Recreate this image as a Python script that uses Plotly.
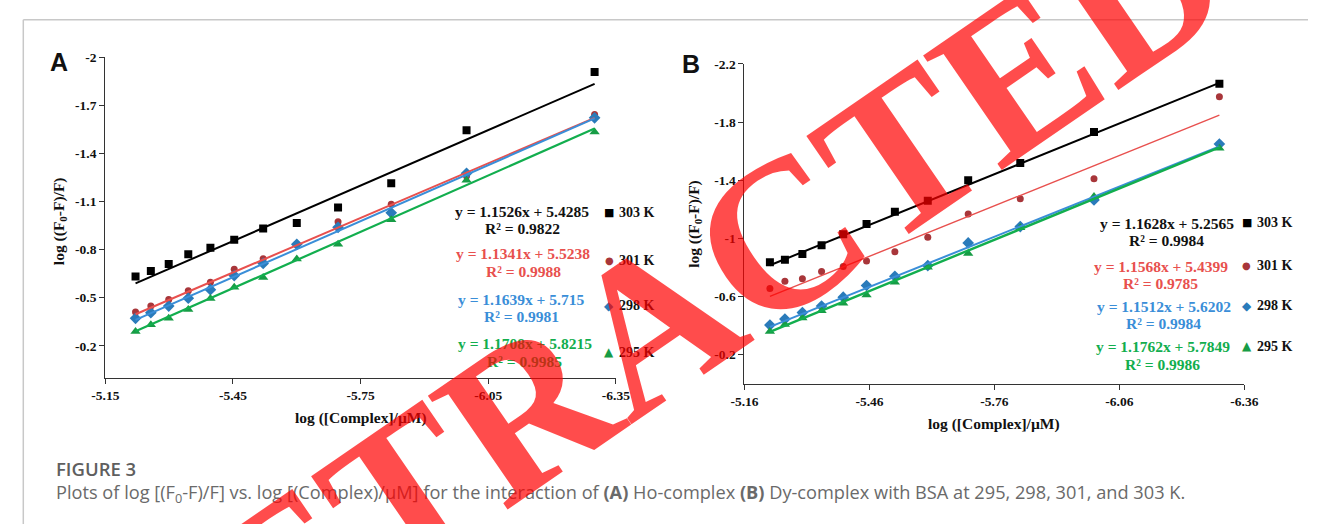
import plotly.graph_objects as go

# ---------------- data ----------------
log_conc = [-5.221, -5.257, -5.299, -5.345, -5.397, -5.453, -5.521, -5.600, -5.697, -5.822, -5.999, -6.300]
temps = ["303 K", "301 K", "298 K", "295 K"]

A_303 = [-0.632, -0.667, -0.710, -0.771, -0.812, -0.861, -0.931, -0.966, -1.062, -1.214, -1.543, -1.906]
A_301 = [-0.411, -0.448, -0.489, -0.544, -0.597, -0.677, -0.743, -0.833, -0.974, -1.083, -1.259, -1.642]
A_298 = [-0.372, -0.407, -0.448, -0.497, -0.550, -0.638, -0.714, -0.833, -0.939, -1.029, -1.275, -1.621]
A_295 = [-0.290, -0.331, -0.372, -0.427, -0.495, -0.566, -0.626, -0.741, -0.833, -0.986, -1.232, -1.533]
A_slopes = [1.1526, 1.1341, 1.1639, 1.1708]
A_intercepts = [5.4285, 5.5238, 5.715, 5.8215]
A_r2 = [0.9822, 0.9988, 0.9981, 0.9985]

B_303 = [-0.835, -0.853, -0.892, -0.953, -1.027, -1.099, -1.183, -1.258, -1.400, -1.518, -1.732, -2.064]
B_301 = [-0.654, -0.704, -0.722, -0.772, -0.806, -0.844, -0.907, -1.007, -1.167, -1.273, -1.409, -1.974]
B_298 = [-0.403, -0.444, -0.489, -0.534, -0.595, -0.675, -0.738, -0.812, -0.968, -1.081, -1.264, -1.649]
B_295 = [-0.358, -0.406, -0.451, -0.501, -0.553, -0.609, -0.697, -0.801, -0.896, -1.072, -1.287, -1.619]
B_slopes = [1.1628, 1.1568, 1.1512, 1.1762]
B_intercepts = [5.2565, 5.4399, 5.6202, 5.7849]
B_r2 = [0.9984, 0.9785, 0.9984, 0.9986]

A_xticks = [-5.15, -5.45, -5.75, -6.05, -6.35]
A_yticks = [-2, -1.7, -1.4, -1.1, -0.8, -0.5, -0.2]
B_xticks = [-5.16, -5.46, -5.76, -6.06, -6.36]
B_yticks = [-2.2, -1.8, -1.4, -1, -0.6, -0.2]

x_title = "log ([Complex]/µM)"
y_title = "log ((F<sub>0</sub>-F)/F)"
caption_head = "FIGURE 3"
caption_text = ("Plots of log [(F<sub>0</sub>-F)/F] vs. log [(Complex)/µM] for the interaction of "
                "<b>(A)</b> Ho-complex <b>(B)</b> Dy-complex with BSA at 295, 298, 301, and 303 K.")
stamp_text = "RETRACTED"

# ---------------- styles ----------------
W, H = 1322, 524
def px(x): return x / W
def py(y): return 1 - y / H

SERIF = "Liberation Serif, Times New Roman, serif"
line_colors = ["#000000", "#E8504E", "#3A8ED8", "#12AE4E"]
text_colors = ["#111111", "#E8504E", "#3A8ED8", "#12AE4E"]
marker_colors = ["#000000", "#A8363A", "#2A7BBA", "#179C45"]
symbols = ["square", "circle", "diamond", "triangle-up"]
msizes = [8, 7, 9, 9]
glyphs = ["■", "●", "◆", "▲"]
glyph_sizes = [11, 10, 12, 12]

fig = go.Figure()

panels = [
    dict(xa="x", ya="y", series=[A_303, A_301, A_298, A_295], slopes=A_slopes, icpts=A_intercepts,
         lw=[2, 2, 2, 2.2]),
    dict(xa="x2", ya="y2", series=[B_303, B_301, B_298, B_295], slopes=B_slopes, icpts=B_intercepts,
         lw=[2, 1.4, 2, 2.4]),
]

for p in panels:
    for i, ys in enumerate(p["series"]):
        fig.add_trace(go.Scatter(x=log_conc, y=ys, mode="markers", xaxis=p["xa"], yaxis=p["ya"],
                                 marker=dict(symbol=symbols[i], size=msizes[i], color=marker_colors[i],
                                             line=dict(width=0)),
                                 showlegend=False, name=temps[i]))
    for i in range(4):
        xs = [log_conc[0], log_conc[-1]]
        yl = [p["slopes"][i] * v + p["icpts"][i] for v in xs]
        fig.add_trace(go.Scatter(x=xs, y=yl, mode="lines", xaxis=p["xa"], yaxis=p["ya"],
                                 line=dict(color=line_colors[i], width=p["lw"][i]), showlegend=False))

axis_common = dict(showgrid=False, zeroline=False, showline=True, linecolor="#333333", linewidth=1.3,
                   ticks="outside", ticklen=5, tickwidth=1.2, tickcolor="#333333",
                   tickfont=dict(family=SERIF, size=13.5, color="#111111", weight="bold"))

def fmt(v):
    return "%g" % v

fig.update_layout(
    width=W, height=H, margin=dict(l=0, r=0, t=0, b=0),
    paper_bgcolor="white", plot_bgcolor="white", showlegend=False,
    xaxis=dict(domain=[px(93.3), px(614.9)], anchor="y", range=[-5.15, -6.35],
               tickvals=A_xticks, ticktext=[fmt(v) for v in A_xticks], **axis_common),
    yaxis=dict(domain=[py(376), py(50.7)], anchor="x", range=[0, -2],
               tickvals=A_yticks, ticktext=[fmt(v) for v in A_yticks], **axis_common),
    xaxis2=dict(domain=[px(746.3), px(1257)], anchor="y2", range=[-5.16, -6.36],
                tickvals=B_xticks, ticktext=[fmt(v) for v in B_xticks], **axis_common),
    yaxis2=dict(domain=[py(381.7), py(57.7)], anchor="x2", range=[0, -2.2],
                tickvals=B_yticks, ticktext=[fmt(v) for v in B_yticks], **axis_common),
)

ann = []
def A(x, y, text, size, color="#111111", family=SERIF, weight="bold", xanchor="center", angle=0, yanchor="middle"):
    ann.append(dict(xref="paper", yref="paper", x=px(x), y=py(y), text=text, showarrow=False,
                    xanchor=xanchor, yanchor=yanchor, textangle=angle,
                    font=dict(family=family, size=size, color=color, weight=weight)))

# axis titles
A(354, 417, x_title, 15.5)
A(1001, 423, x_title, 15.5)
A(46, 217, y_title, 15.5, angle=-90)
A(694.5, 220, y_title, 15.5, angle=-90)

# panel letters
A(46, 56, "A", 25, family="Liberation Sans, Arial, sans-serif")
A(692, 58, "B", 25, family="Liberation Sans, Arial, sans-serif")

# equations + legend entries
eqA_y = [(207, 224), (250, 268), (296, 314), (341, 359)]
eqA_x = [519, 520.5, 518, 522]
legA_y = [208, 256.7, 303, 350]
eqB_y = [(219, 236.7), (262.7, 280), (303.3, 320.7), (344, 362.3)]
eqB_x = [1177.5, 1171.7, 1174.5, 1173.8]
legB_y = [218.3, 261.7, 302.7, 344]

for i in range(4):
    A(eqA_x[i], eqA_y[i][0], f"y = {A_slopes[i]}x + {A_intercepts[i]}", 15.5, color=text_colors[i])
    A(eqA_x[i], eqA_y[i][1], f"R² = {A_r2[i]}", 15.5, color=text_colors[i])
    A(608, legA_y[i], glyphs[i], glyph_sizes[i], color=marker_colors[i], family="DejaVu Sans", weight="normal")
    A(616.5, legA_y[i], temps[i], 14, xanchor="left")
    A(eqB_x[i], eqB_y[i][0], f"y = {B_slopes[i]}x + {B_intercepts[i]}", 15.5, color=text_colors[i])
    A(eqB_x[i], eqB_y[i][1], f"R² = {B_r2[i]}", 15.5, color=text_colors[i])
    A(1259.5, legB_y[i], glyphs[i], glyph_sizes[i], color=marker_colors[i], family="DejaVu Sans", weight="normal")
    A(1268, legB_y[i], temps[i], 14, xanchor="left")

# caption
A(41, 468, caption_head, 18.5, color="#5f5f5f", family="Open Sans, sans-serif", weight=600, xanchor="left")
A(41, 493, caption_text, 18.2, color="#6a6a6a", family="Open Sans, sans-serif", weight="normal", xanchor="left")

# retracted stamp
A(652, 321, stamp_text, 212, color="rgba(255,0,0,0.70)", angle=-34.5)

fig.update_layout(annotations=ann)

# frame lines
fig.update_layout(shapes=[
    dict(type="line", xref="paper", yref="paper", x0=px(9.5), x1=1, y0=py(13), y1=py(13),
         line=dict(color="#c8c8c8", width=1.5)),
    dict(type="line", xref="paper", yref="paper", x0=px(9.5), x1=px(9.5), y0=py(13), y1=0,
         line=dict(color="#c8c8c8", width=1.5)),
])

fig.write_html("out.html", config={"displayModeBar": False},
               post_script="document.body.style.margin='0px';")
